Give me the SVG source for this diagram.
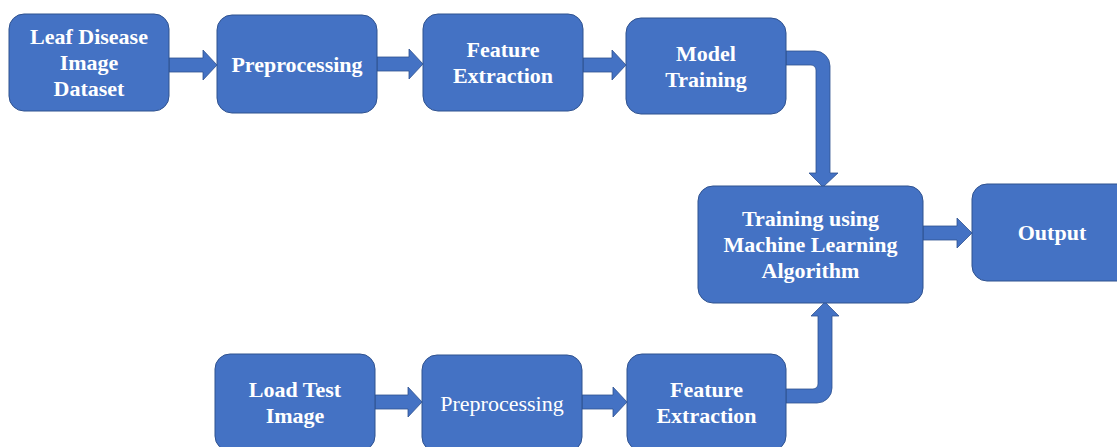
<svg xmlns="http://www.w3.org/2000/svg" width="1117" height="447" viewBox="0 0 1117 447">
<style>
.n{fill:#4472C4;stroke:#2F528F;stroke-width:1}
.a{fill:#4472C4;stroke:#2F528F;stroke-width:0.8}
text{font-family:"Liberation Serif","Times New Roman",serif;font-size:22px;font-weight:bold;fill:#fff;text-anchor:middle}
text.r{font-weight:normal}
</style>
<rect width="1117" height="447" fill="#fff"/>
<g id="connectors">
<path class="a" d="M169,58 L203,58 L203,50 L217,65 L203,80 L203,72 L169,72 Z"/>
<path class="a" d="M377,57 L409,57 L409,49 L423,64 L409,79 L409,71 L377,71 Z"/>
<path class="a" d="M583,58 L612,58 L612,50 L626,65 L612,80 L612,72 L583,72 Z"/>
<path class="a" d="M786,51 L815,51 A15,15 0 0 1 830,66 L830,173 L838,173 L823,187 L809,173 L816,173 L816,70 A5,5 0 0 0 811,65 L786,65 Z"/>
<path class="a" d="M923,226 L957,226 L957,218 L972,233 L957,248 L957,240 L923,240 Z"/>
<path class="a" d="M375,395 L408,395 L408,387 L422,402 L408,417 L408,409 L375,409 Z"/>
<path class="a" d="M582,395 L613,395 L613,387 L627,402 L613,417 L613,409 L582,409 Z"/>
<path class="a" d="M786,389 L813,389 A5,5 0 0 0 818,384 L818,316 L811,316 L825,302 L839,316 L832,316 L832,388 A15,15 0 0 1 817,403 L786,403 Z"/>
</g>
<g id="leaf-dataset">
<rect class="n" x="9" y="14" width="160" height="97" rx="15"/>
<text x="89" y="43.5">Leaf Disease</text>
<text x="89" y="69.5">Image</text>
<text x="89" y="95.5">Dataset</text>
</g>
<g id="preprocessing-1">
<rect class="n" x="217" y="15" width="160" height="98" rx="15"/>
<text x="297" y="71.5">Preprocessing</text>
</g>
<g id="feature-extraction-1">
<rect class="n" x="423" y="14" width="160" height="97" rx="15"/>
<text x="503" y="56.5">Feature</text>
<text x="503" y="82.5">Extraction</text>
</g>
<g id="model-training">
<rect class="n" x="626" y="18" width="160" height="96" rx="15"/>
<text x="706" y="60.5">Model</text>
<text x="706" y="86.5">Training</text>
</g>
<g id="ml-training">
<rect class="n" x="698" y="186" width="225" height="117" rx="15"/>
<text x="810.5" y="225.5">Training using</text>
<text x="810.5" y="251.5">Machine Learning</text>
<text x="810.5" y="277.5">Algorithm</text>
</g>
<g id="output">
<rect class="n" x="972" y="184" width="160" height="97" rx="15"/>
<text x="1052" y="239.5">Output</text>
</g>
<g id="load-test-image">
<rect class="n" x="215" y="354" width="160" height="97" rx="15"/>
<text x="295" y="396.5">Load Test</text>
<text x="295" y="422.5">Image</text>
</g>
<g id="preprocessing-2">
<rect class="n" x="422" y="355" width="160" height="97" rx="15"/>
<text class="r" x="502" y="411">Preprocessing</text>
</g>
<g id="feature-extraction-2">
<rect class="n" x="627" y="354" width="159" height="97" rx="15"/>
<text x="706.5" y="396.5">Feature</text>
<text x="706.5" y="422.5">Extraction</text>
</g>
</svg>
